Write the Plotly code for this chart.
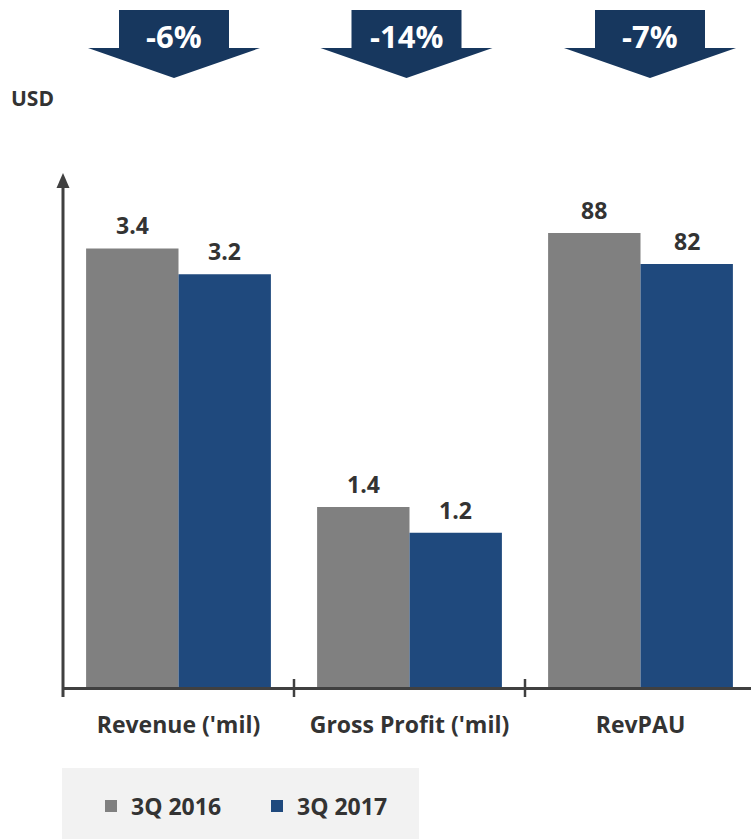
import plotly.graph_objects as go

# ---- data ----
categories = ["Revenue ('mil)", "Gross Profit ('mil)", "RevPAU"]
series_names = ["3Q 2016", "3Q 2017"]
values_2016 = [3.4, 1.4, 88]
values_2017 = [3.2, 1.2, 82]
change_labels = ["-6%", "-14%", "-7%"]
unit_label = "USD"

# ---- style ----
W, H = 751, 839
ML, MR, MT, MB = 63, 0, 172, 151
PW, PH = W - ML - MR, H - MT - MB
CAT_W = 231  # pixels per category
GRAY = "#808080"
BLUE = "#1F497D"
NAVY = "#17375E"
TXT = "#333333"
AX = "#404040"
FONT = "Open Sans"


def px(x):
    return (x - ML) / PW


def py(y):
    return (H - MB - y) / PH


fig = go.Figure()

prim_idx = [0, 1]
sec_idx = [2]
colors = [GRAY, BLUE]
offsets = [-0.4, 0.0]
vals = [values_2016, values_2017]

for s in range(2):
    fig.add_trace(go.Bar(
        x=[categories[i] for i in prim_idx], y=[vals[s][i] for i in prim_idx],
        name=series_names[s], marker=dict(color=colors[s], line=dict(width=0)),
        width=0.4, offset=offsets[s], legendgroup=series_names[s],
        showlegend=True, yaxis="y", hoverinfo="skip"))
    fig.add_trace(go.Bar(
        x=[categories[i] for i in sec_idx], y=[vals[s][i] for i in sec_idx],
        name=series_names[s], marker=dict(color=colors[s], line=dict(width=0)),
        width=0.4, offset=offsets[s], legendgroup=series_names[s],
        showlegend=False, yaxis="y2", hoverinfo="skip"))

annotations = []
# value labels
for s in range(2):
    for i, c in enumerate(categories):
        v = vals[s][i]
        annotations.append(dict(
            x=i + offsets[s] + 0.2, y=v, xref="x", yref="y2" if i in sec_idx else "y",
            text=f"{v:g}", showarrow=False, yanchor="bottom", yshift=5,
            font=dict(family=FONT, size=23, color=TXT, weight="bold")))

# change arrows at top
arrow_centers = [174, 406.5, 650]
for cx, lab in zip(arrow_centers, change_labels):
    pts = [(cx - 55, 10), (cx + 55, 10), (cx + 55, 48), (cx + 86, 48), (cx, 78),
           (cx - 86, 48), (cx - 55, 48)]
    path = "M " + " L ".join(f"{px(x):.5f},{py(y):.5f}" for x, y in pts) + " Z"
    fig.add_shape(type="path", path=path, xref="paper", yref="paper",
                  fillcolor=NAVY, line=dict(width=0))
    annotations.append(dict(
        x=px(cx), y=py(36), xref="paper", yref="paper", text=lab, showarrow=False,
        xanchor="center", yanchor="middle",
        font=dict(family=FONT, size=31, color="white", weight="bold")))

annotations.append(dict(
    x=px(9), y=py(98), xref="paper", yref="paper", text=unit_label, showarrow=False,
    xanchor="left", yanchor="middle",
    font=dict(family=FONT, size=21, color=TXT, weight="bold")))

# y-axis line with arrowhead
fig.add_shape(type="line", xref="paper", yref="paper", x0=0, x1=0,
              y0=py(697), y1=py(184), line=dict(color=AX, width=3))
tri = [(63, 173), (69.5, 188), (56.5, 188)]
fig.add_shape(type="path", xref="paper", yref="paper",
              path="M " + " L ".join(f"{px(x):.5f},{py(y):.5f}" for x, y in tri) + " Z",
              fillcolor=AX, line=dict(width=0))
# x-axis line
fig.add_shape(type="line", xref="paper", yref="paper", x0=0, x1=1,
              y0=py(688.5), y1=py(688.5), line=dict(color=AX, width=3))
# boundary ticks
for b in [0.5, 1.5]:
    fig.add_shape(type="line", xref="x", yref="paper", x0=b, x1=b,
                  y0=py(679), y1=py(697), line=dict(color=AX, width=2.5))

# legend background
fig.add_shape(type="rect", xref="paper", yref="paper", x0=px(62), x1=px(419),
              y0=py(768), y1=py(839), fillcolor="#F2F2F2", line=dict(width=0),
              layer="below")

fig.update_layout(
    width=W, height=H, margin=dict(l=ML, r=MR, t=MT, b=MB, pad=0),
    paper_bgcolor="white", plot_bgcolor="white",
    barmode="overlay", annotations=annotations,
    showlegend=True,
    legend=dict(orientation="h", x=px(91), y=py(806), xanchor="left", yanchor="middle",
                bgcolor="rgba(0,0,0,0)", entrywidth=121, entrywidthmode="pixels",
                font=dict(family=FONT, size=23, color=TXT, weight="bold"),
                traceorder="normal"),
    xaxis=dict(type="category", categoryorder="array", categoryarray=categories,
               range=[-0.5, -0.5 + PW / CAT_W], showgrid=False, zeroline=False,
               showline=False, ticks="", ticklabelstandoff=21,
               tickfont=dict(family=FONT, size=23, color=TXT, weight="bold")),
    yaxis=dict(range=[0, PH / 129.3], visible=False, showgrid=False),
    yaxis2=dict(range=[0, PH / 5.17], overlaying="y", visible=False, showgrid=False),
)

fig.write_html("out.html")
